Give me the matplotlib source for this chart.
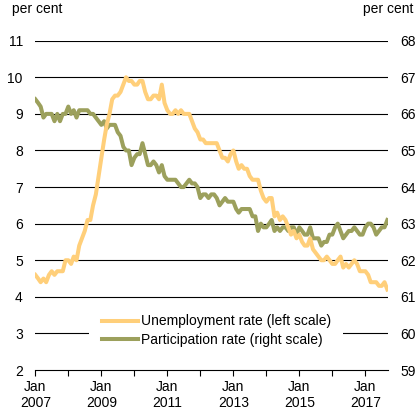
import numpy as np
import pandas as pd
import matplotlib
matplotlib.use('Agg')
import matplotlib.pyplot as plt
import matplotlib.dates as mdates
from matplotlib.ticker import FixedLocator, FixedFormatter

plt.rcParams['font.family'] = ['Liberation Sans', 'DejaVu Sans']
plt.rcParams['font.size'] = 10

# monthly data, Jan 2007 - Sep 2017
unemployment = [
    4.6, 4.5, 4.4, 4.5, 4.4, 4.6, 4.7, 4.6, 4.7, 4.7, 4.7, 5.0,
    5.0, 4.9, 5.1, 5.0, 5.4, 5.6, 5.8, 6.1, 6.1, 6.5, 6.8, 7.3,
    7.8, 8.3, 8.7, 9.0, 9.4, 9.5, 9.5, 9.6, 9.8, 10.0, 9.9, 9.9,
    9.8, 9.8, 9.9, 9.9, 9.6, 9.4, 9.4, 9.5, 9.5, 9.4, 9.8, 9.3,
    9.1, 9.0, 9.0, 9.1, 9.0, 9.1, 9.0, 9.0, 9.0, 8.8, 8.6, 8.5,
    8.3, 8.3, 8.2, 8.2, 8.2, 8.2, 8.2, 8.0, 7.8, 7.8, 7.7, 7.9,
    8.0, 7.7, 7.5, 7.6, 7.5, 7.5, 7.3, 7.2, 7.2, 7.2, 6.9, 6.7,
    6.6, 6.7, 6.7, 6.2, 6.3, 6.1, 6.2, 6.1, 5.9, 5.7, 5.8, 5.6,
    5.7, 5.5, 5.4, 5.4, 5.6, 5.3, 5.2, 5.1, 5.0, 5.0, 5.1, 5.0,
    4.9, 4.9, 5.0, 5.1, 4.8, 4.9, 4.8, 4.9, 5.0, 4.9, 4.7, 4.7,
    4.7, 4.6, 4.4, 4.4, 4.4, 4.3, 4.3, 4.4, 4.2,
]
participation = [
    66.4, 66.3, 66.2, 65.9, 66.0, 66.0, 66.0, 65.8, 66.0, 65.8, 66.0, 66.0,
    66.2, 66.0, 66.1, 65.9, 66.1, 66.1, 66.1, 66.1, 66.0, 66.0, 65.9, 65.8,
    65.7, 65.8, 65.6, 65.7, 65.7, 65.7, 65.5, 65.4, 65.1, 65.0, 65.0, 64.6,
    64.8, 64.9, 64.9, 65.2, 64.9, 64.6, 64.6, 64.7, 64.6, 64.4, 64.6, 64.3,
    64.2, 64.2, 64.2, 64.2, 64.1, 64.0, 64.0, 64.1, 64.2, 64.1, 64.1, 64.0,
    63.7, 63.8, 63.8, 63.7, 63.8, 63.8, 63.7, 63.5, 63.6, 63.7, 63.6, 63.6,
    63.6, 63.4, 63.3, 63.4, 63.4, 63.4, 63.4, 63.2, 63.2, 62.8, 63.0, 62.9,
    62.9, 63.0, 63.1, 62.8, 62.9, 62.8, 62.9, 62.9, 62.8, 62.9, 62.9, 62.7,
    62.9, 62.8, 62.7, 62.7, 62.9, 62.6, 62.6, 62.6, 62.4, 62.5, 62.5, 62.7,
    62.7, 62.9, 63.0, 62.8, 62.6, 62.7, 62.8, 62.8, 62.9, 62.8, 62.7, 62.7,
    62.9, 63.0, 63.0, 62.9, 62.7, 62.8, 62.9, 62.9, 63.1,
]
dates = pd.date_range('2007-01-01', periods=len(unemployment), freq='MS')

left_ticks = list(range(2, 12))
right_ticks = list(range(59, 69))
tick_years = list(range(2007, 2018))

yellow = '#FFCF7A'
olive = '#9CA05C'

fig = plt.figure(figsize=(4.18, 4.18), dpi=100)
ax2 = fig.add_axes([0.0845, 0.1148, 0.8430, 0.7878])
ax = ax2.twinx()
ax.yaxis.tick_left()
ax2.yaxis.tick_right()
ax.set_zorder(2)
ax2.set_zorder(1)
ax.patch.set_visible(False)

for y in right_ticks[1:]:
    ax2.axhline(y, color='black', lw=0.8, zorder=0)

l2, = ax2.plot(dates, participation, color=olive, lw=2.9, solid_joinstyle='round',
               label='Participation rate (right scale)')
l1, = ax.plot(dates, unemployment, color=yellow, lw=2.9, solid_joinstyle='round',
              label='Unemployment rate (left scale)')

ax.set_ylim(2, 11)
ax2.set_ylim(59, 68)
ax.set_yticks(left_ticks)
ax2.set_yticks(right_ticks)
ax.tick_params(axis='y', length=0, pad=9, labelsize=10)
ax2.tick_params(axis='y', length=0, pad=9, labelsize=10, labelright=True, labelleft=False)

ax2.set_xlim(pd.Timestamp('2007-01-01'), pd.Timestamp('2017-09-05'))
xt = [mdates.date2num(pd.Timestamp(f'{yr}-01-01')) for yr in tick_years]
ax2.xaxis.set_major_locator(FixedLocator(xt))
ax2.xaxis.set_major_formatter(FixedFormatter(
    [f'Jan\n{yr}' if yr % 2 == 1 else '' for yr in tick_years]))
ax2.tick_params(axis='x', direction='out', length=4, width=0.8, pad=3,
                labelsize=10, color='black')

for a in (ax, ax2):
    for s in ('top', 'left', 'right'):
        a.spines[s].set_visible(False)
ax.spines['bottom'].set_visible(False)
ax2.spines['bottom'].set_color('black')
ax2.spines['bottom'].set_linewidth(0.8)

leg = ax.legend(handles=[l1, l2], loc='center left',
                bbox_to_anchor=(0.133, 0.12), frameon=True, fancybox=False,
                edgecolor='none', facecolor='white', framealpha=1,
                handlelength=2.6, handletextpad=0.2, borderpad=0.9,
                labelspacing=0.3, fontsize=10)

fig.text(0.029, 0.978, 'per cent', ha='left', va='center', fontsize=10)
fig.text(0.988, 0.978, 'per cent', ha='right', va='center', fontsize=10)

fig.savefig('out.png', dpi=100)
